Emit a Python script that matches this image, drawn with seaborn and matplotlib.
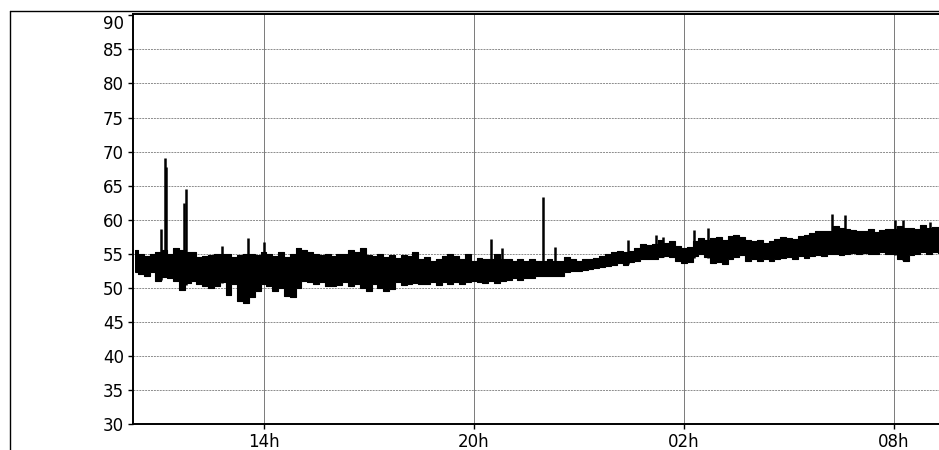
import numpy as np
import pandas as pd
import matplotlib
matplotlib.use("Agg")
import matplotlib.pyplot as plt
from matplotlib.lines import Line2D
import seaborn as sns

# noise band, one pair per 10-minute slot starting 10:20
start_h = 10 + 20 / 60
band_hi = [
    55.5, 55.0, 54.7, 55.0, 55.3, 55.5, 55.0, 55.8, 55.5, 55.2,
    55.3, 54.5, 54.6, 54.8, 55.0, 55.0, 55.0, 54.5, 54.8, 55.0,
    55.0, 54.8, 55.2, 55.0, 54.7, 55.3, 54.5, 55.0, 55.8, 55.5,
    55.3, 55.0, 54.8, 54.9, 54.6, 55.0, 55.0, 55.6, 55.2, 55.8,
    54.8, 54.6, 55.0, 54.5, 54.8, 54.4, 54.8, 54.6, 55.2, 54.3,
    54.5, 54.0, 54.3, 54.7, 55.0, 54.6, 54.2, 55.0, 54.0, 54.4,
    54.2, 54.3, 55.0, 54.3, 54.2, 54.0, 54.3, 54.0, 54.2, 54.0,
    54.0, 54.2, 54.0, 54.0, 54.5, 54.3, 54.0, 54.3, 54.3, 54.4,
    54.6, 55.0, 55.2, 55.4, 55.2, 55.4, 55.8, 56.5, 56.3, 56.5,
    57.0, 56.6, 56.8, 56.2, 55.8, 56.0, 56.8, 57.3, 57.0, 57.3,
    57.5, 57.0, 57.6, 57.8, 57.5, 57.0, 56.8, 57.0, 56.6, 56.8,
    57.2, 57.5, 57.3, 57.2, 57.6, 57.8, 58.1, 58.3, 58.4, 58.4,
    59.0, 58.8, 58.6, 58.5, 58.3, 58.4, 58.6, 58.2, 58.5, 58.7,
    58.7, 59.0, 58.8, 58.8, 58.6, 59.2, 58.8, 58.9, 58.9,
]
band_lo = [
    52.3, 52.0, 51.8, 52.3, 51.0, 51.6, 51.5, 51.0, 49.7, 50.7,
    51.0, 50.5, 50.2, 50.0, 50.3, 50.8, 49.0, 50.5, 48.0, 47.8,
    48.7, 49.5, 50.5, 50.3, 49.5, 50.0, 48.8, 48.6, 50.0, 51.0,
    50.8, 50.5, 50.8, 50.3, 50.2, 50.4, 50.8, 50.3, 50.5, 50.0,
    49.6, 50.5, 50.0, 49.6, 49.8, 50.8, 50.4, 50.6, 50.7, 50.5,
    50.6, 50.8, 50.4, 50.8, 50.5, 50.9, 50.6, 50.8, 51.0, 50.9,
    50.7, 51.0, 50.7, 51.0, 51.2, 51.4, 51.2, 51.5, 51.5, 51.8,
    51.8, 51.8, 51.7, 51.8, 52.3, 52.4, 52.5, 52.6, 52.7, 52.9,
    53.0, 53.2, 53.4, 53.6, 53.3, 53.8, 54.0, 54.2, 54.3, 54.3,
    54.5, 54.6, 54.5, 54.0, 53.6, 53.8, 54.6, 55.0, 54.5, 53.6,
    53.8, 53.5, 54.3, 54.5, 54.8, 54.0, 54.3, 54.0, 54.2, 54.0,
    54.3, 54.4, 54.5, 54.3, 54.6, 54.4, 54.6, 54.8, 54.7, 54.9,
    55.0, 54.8, 55.0, 55.1, 55.0, 55.1, 55.0, 54.9, 55.2, 55.0,
    54.9, 54.3, 53.9, 54.8, 55.0, 55.2, 55.0, 55.3, 55.1,
]
# isolated peaks (hour of day, level)
spike_t = [11.06, 11.175, 11.215, 11.74, 11.795, 12.81, 13.56, 14.0,
           20.5, 20.8, 21.985, 22.33, 24.4, 25.2, 25.4, 26.3, 26.7,
           30.22, 30.6, 32.03, 32.26, 33.03]
spike_v = [58.7, 69.0, 67.8, 62.4, 64.5, 56.2, 57.3, 56.7,
           57.1, 55.8, 63.3, 56.0, 57.0, 57.8, 57.5, 58.5, 58.8,
           60.8, 60.7, 59.9, 60.0, 59.7]

y_ticks = list(range(30, 95, 5))
x_ticks = [14, 20, 26, 32]
x_labels = ["14h", "20h", "02h", "08h"]

slot = 10 / 60
t_slot = [start_h + k * slot for k in range(len(band_hi))]
band = pd.DataFrame({"t": t_slot, "hi": band_hi, "lo": band_lo})
spikes = pd.DataFrame({"t": spike_t, "v": spike_v})
spikes["base"] = np.interp(spikes["t"], band["t"], band["lo"])

sns.set_style("white")
plt.rcParams["font.family"] = ["DejaVu Sans"]

fig = plt.figure(figsize=(9.39, 4.5), dpi=100)
ax = fig.add_axes([133 / 939, 1 - 424 / 450, 827 / 939, 410 / 450])

ax.fill_between(band["t"], band["lo"], band["hi"], step="mid",
                color="black", linewidth=0)
for col in ["hi", "lo"]:
    sns.lineplot(data=band, x="t", y=col, estimator=None, sort=True,
                 drawstyle="steps-mid", color="black", linewidth=0.8, ax=ax)
ax.vlines(spikes["t"], spikes["base"], spikes["v"], color="black", linewidth=1.8)

px_per_h = 35.03
ax.set_xlim(14 - 130.5 / px_per_h, 14 + (960 - 263.5) / px_per_h)
ax.set_ylim(30, 90.2)
ax.set_xticks(x_ticks)
ax.set_xticklabels(x_labels)
ax.set_yticks(y_ticks)
ax.set_xlabel("")
ax.set_ylabel("")

ax.grid(False)
for y in y_ticks[1:-1]:
    ax.axhline(y, color="#8c8c8c", linewidth=0.7, linestyle=(0, (2, 1)), zorder=0)
for x in x_ticks:
    ax.axvline(x, color="#7a7a7a", linewidth=0.7, zorder=0)

for side in ["left", "bottom", "top"]:
    ax.spines[side].set_color("black")
    ax.spines[side].set_linewidth(1.4)
ax.spines["right"].set_visible(False)

ax.tick_params(axis="both", which="major", direction="out", length=3.5,
               width=1.0, color="black", labelsize=12, labelcolor="black",
               left=True, bottom=True)
ax.tick_params(axis="y", pad=3)
ax.tick_params(axis="x", pad=3)
# top label sits lower in the original
ax.get_yticklabels()[-1].set_verticalalignment("top")

# outer frame of the original widget
fig.add_artist(Line2D([10 / 939, 10 / 939], [0, 1 - 11 / 450],
                      color="black", linewidth=1.0, transform=fig.transFigure))
fig.add_artist(Line2D([10 / 939, 1], [1 - 11 / 450, 1 - 11 / 450],
                      color="black", linewidth=1.0, transform=fig.transFigure))

fig.savefig("out.png", dpi=100)
